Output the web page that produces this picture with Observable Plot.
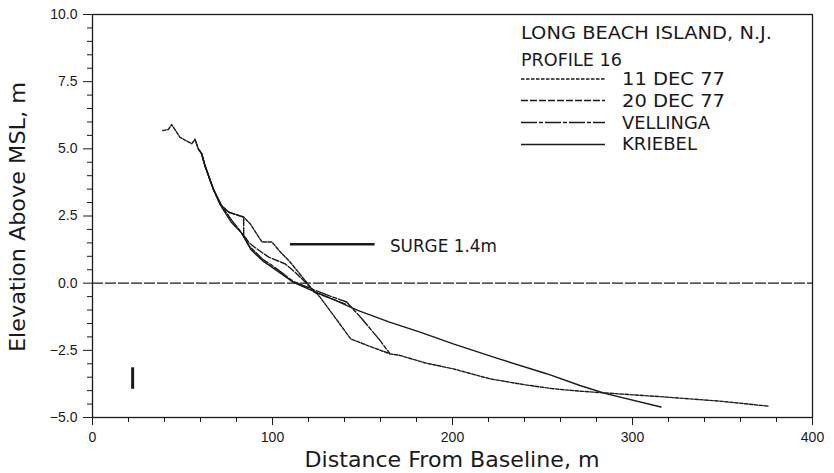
<!DOCTYPE html>
<html><head><meta charset="utf-8">
<script src="https://cdn.jsdelivr.net/npm/d3@7"></script>
<script src="https://cdn.jsdelivr.net/npm/@observablehq/plot@0.6"></script>
<style>
html,body{margin:0;padding:0;background:#fff;}
#chart{width:834px;height:473px;overflow:hidden;}
</style></head><body><div id="chart"></div>
<script>
// ---- data ----
const dec11X = [39.0, 42.1, 44.0, 48.6, 55.1, 56.9, 58.8, 60.7, 62.5, 67.1, 71.0, 75.7, 84.0, 87.5, 94.2, 99.7, 104.5, 109.9, 118.1, 121.8, 126.4, 135.0, 143.5, 154.0, 165.3, 170.8, 185.0, 200.4, 220.8, 240.0, 256.0, 270.8, 285.7, 319.0, 350.0, 375.8];
const dec11Y = [5.68, 5.72, 5.90, 5.43, 5.19, 5.35, 5.00, 4.82, 4.38, 3.51, 2.92, 2.64, 2.46, 2.22, 1.53, 1.53, 1.15, 0.78, 0.10, -0.20, -0.52, -1.30, -2.08, -2.35, -2.63, -2.69, -2.97, -3.19, -3.56, -3.78, -3.93, -4.02, -4.09, -4.24, -4.40, -4.58];

const dec20X = [56.9, 58.8, 60.7, 62.5, 67.1, 71.0, 75.7, 84.0, 84.0, 87.0, 90.4, 97.9, 107.0, 113.0, 118.0, 123.0, 132.0, 141.2];
const dec20Y = [5.35, 5.00, 4.82, 4.38, 3.51, 2.92, 2.64, 2.46, 1.78, 1.50, 1.32, 0.97, 0.72, 0.38, 0.05, -0.33, -0.56, -0.80];

const vellingaX = [58.8, 60.7, 62.5, 67.1, 72.2, 77.5, 82.0, 86.8, 94.2, 99.7, 105.0, 111.6, 122.7, 132.0, 141.2, 150.0, 159.7, 165.3];
const vellingaY = [5.00, 4.80, 4.36, 3.50, 2.83, 2.33, 1.95, 1.40, 0.91, 0.66, 0.40, 0.06, -0.24, -0.48, -0.70, -1.35, -2.13, -2.63];

const kriebelX = [60.7, 62.5, 67.1, 72.0, 77.0, 84.0, 88.0, 94.2, 100.0, 106.0, 111.6, 122.7, 135.0, 147.0, 165.0, 182.0, 200.4, 225.0, 252.3, 270.8, 285.7, 315.8];
const kriebelY = [4.80, 4.36, 3.50, 2.80, 2.28, 1.78, 1.25, 0.85, 0.58, 0.30, 0.03, -0.30, -0.64, -1.00, -1.45, -1.82, -2.26, -2.80, -3.37, -3.81, -4.12, -4.61];

const surgeX = [110, 157];
const surgeLevel = [1.45];
const surgeLabel = "SURGE 1.4m";
const surgeLabelX = [165.5];

const markX = [22.3];
const markY = [-3.15, -3.95];

const titleLines = ["LONG BEACH ISLAND, N.J.", "PROFILE 16"];
const seriesNames = ["11 DEC 77", "20 DEC 77", "VELLINGA", "KRIEBEL"];

const xMajorTicks = [0, 100, 200, 300, 400];
const xMinorTicks = [20, 40, 60, 80, 120, 140, 160, 180, 220, 240, 260, 280, 320, 340, 360, 380];
const yMajorTicks = [-5, -2.5, 0, 2.5, 5, 7.5, 10];
const yMinorTicks = [-4.5, -4, -3.5, -3, -2, -1.5, -1, -0.5, 0.5, 1, 1.5, 2, 3, 3.5, 4, 4.5, 5.5, 6, 6.5, 7, 8, 8.5, 9, 9.5];

const xLabel = "Distance From Baseline, m";
const yLabel = "Elevation Above MSL, m";

// ---- build ----
const rows = (xs, ys) => xs.map((x, i) => ({x, y: ys[i]}));
const ink = "#1a1a1a";
const dash = ["3.5,1.5", "7,2", "16,2,4,2", null];
const series = [[dec11X, dec11Y], [dec20X, dec20Y], [vellingaX, vellingaY], [kriebelX, kriebelY]];
const noLabel = () => "";

const chart = Plot.plot({
  width: 834, height: 473,
  marginLeft: 92, marginRight: 22, marginTop: 14, marginBottom: 56,
  x: {domain: [0, 400]},
  y: {domain: [-5, 10]},
  style: {fontFamily: "Liberation Sans, Arial, sans-serif", fontSize: "14px", color: ink, background: "#fff"},
  marks: [
    Plot.ruleY([0], {stroke: ink, strokeWidth: 1.3, strokeDasharray: "11,2"}),
    ...series.map(([xs, ys], i) => Plot.line(rows(xs, ys), {x: "x", y: "y", stroke: ink, strokeWidth: 1.4, strokeDasharray: dash[i]})),
    Plot.ruleY(surgeLevel, {x1: surgeX[0], x2: surgeX[1], stroke: ink, strokeWidth: 2.6}),
    Plot.ruleX(markX, {y1: markY[0], y2: markY[1], stroke: ink, strokeWidth: 3}),
    Plot.frame({stroke: ink, strokeWidth: 1.3}),
    Plot.axisY({ticks: yMajorTicks, tickSize: 9, tickPadding: 6, tickFormat: d3.format(".1f"), label: null, stroke: ink}),
    Plot.axisY({ticks: yMinorTicks, tickSize: 5, tickFormat: noLabel, label: null, stroke: ink}),
    Plot.axisX({ticks: xMajorTicks, tickSize: 8, tickPadding: 7, tickFormat: d3.format("d"), label: null, stroke: ink}),
    Plot.axisX({ticks: xMinorTicks, tickSize: 5, tickFormat: noLabel, label: null, stroke: ink})
  ]
});
document.getElementById("chart").appendChild(chart);

const svg = d3.select(chart);
const sx = chart.scale("x"), sy = chart.scale("y");
const font = "DejaVu Sans, sans-serif";

// surge label
svg.append("text")
  .attr("x", sx.apply(surgeLabelX[0])).attr("y", sy.apply(surgeLevel[0]) + 8.5)
  .attr("text-anchor", "start")
  .attr("font-family", font).attr("font-size", 18).attr("fill", ink)
  .attr("textLength", 107).attr("lengthAdjust", "spacingAndGlyphs")
  .text(surgeLabel);

// legend
const lg = svg.append("g").attr("font-family", font).attr("font-size", 17).attr("fill", ink).attr("text-anchor", "start");
const titleBase = [39, 66];
const titleLen = [251, 101];
titleLines.forEach((t, i) => lg.append("text").attr("x", 521).attr("y", titleBase[i])
  .attr("text-anchor", "start")
  .attr("textLength", titleLen[i]).attr("lengthAdjust", "spacingAndGlyphs").text(t));
const entryBase = [85, 107, 129, 150];
const entryLine = [79, 100.5, 122.5, 144.5];
const entryLen = [103, 103, 88, 75];
seriesNames.forEach((t, i) => {
  lg.append("line").attr("x1", 521).attr("x2", 605).attr("y1", entryLine[i]).attr("y2", entryLine[i])
    .attr("stroke", ink).attr("stroke-width", 1.3).attr("stroke-dasharray", dash[i]);
  lg.append("text").attr("x", 622).attr("y", entryBase[i])
    .attr("text-anchor", "start")
    .attr("textLength", entryLen[i]).attr("lengthAdjust", "spacingAndGlyphs").text(t);
});

// axis titles
svg.append("text").attr("x", 452).attr("y", 467).attr("text-anchor", "middle")
  .attr("font-family", font).attr("font-size", 21).attr("fill", ink)
  .attr("textLength", 295).attr("lengthAdjust", "spacingAndGlyphs").text(xLabel);
svg.append("text").attr("transform", "translate(25,217) rotate(-90)").attr("text-anchor", "middle")
  .attr("font-family", font).attr("font-size", 21).attr("fill", ink)
  .attr("textLength", 270).attr("lengthAdjust", "spacingAndGlyphs").text(yLabel);
</script>
</body></html>
